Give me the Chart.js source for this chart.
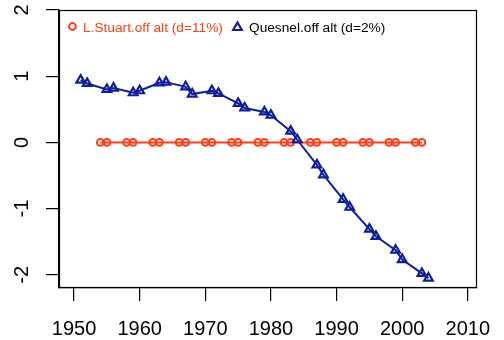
<!DOCTYPE html>
<html>
<head>
<meta charset="utf-8">
<script src="https://cdn.jsdelivr.net/npm/chart.js@4/dist/chart.umd.min.js"></script>
<style>
  html, body { margin: 0; padding: 0; background: #ffffff; }
  #wrap { width: 504px; height: 340px; }
</style>
</head>
<body>
<div id="wrap"><canvas id="c" width="504" height="340"></canvas></div>
<script>
// Series: standardised "off alt" indices by year
const stuartYears  = [1954, 1955, 1958, 1959, 1962, 1963, 1966, 1967, 1970, 1971, 1974, 1975, 1978,
                      1979, 1982, 1983, 1986, 1987, 1990, 1991, 1994, 1995, 1998, 1999, 2002, 2003];
const stuartValues = [0, 0, 0, 0, 0, 0, 0, 0, 0, 0, 0, 0, 0,
                      0, 0, 0, 0, 0, 0, 0, 0, 0, 0, 0, 0, 0];

const quesnelYears  = [1951, 1952, 1955, 1956, 1959, 1960, 1963, 1964, 1967, 1968, 1971, 1972, 1975, 1976,
                       1979, 1980, 1983, 1984, 1987, 1988, 1991, 1992, 1995, 1996, 1999, 2000, 2003, 2004];
const quesnelValues = [0.94, 0.89, 0.80, 0.82, 0.75, 0.78, 0.90, 0.91, 0.84, 0.73, 0.78, 0.74, 0.59, 0.52,
                       0.46, 0.41, 0.17, 0.04, -0.34, -0.49, -0.86, -0.98, -1.31, -1.42, -1.63, -1.77, -1.98, -2.05];

const seriesLabels = ['L.Stuart.off alt (d=11%)', 'Quesnel.off alt (d=2%)'];
const xTickLabels = [1950, 1960, 1970, 1980, 1990, 2000, 2010];
const yTickLabels = [-2, -1, 0, 1, 2];

const RED = '#ff3c14';
const BLUE = '#0f1f9c';
const FONT = '"Liberation Sans", Arial, sans-serif';

const toPoints = (xs, ys) => xs.map((x, i) => ({ x: x, y: ys[i] }));

// Box, rotated y labels, x labels and the in-plot legend
const decorations = {
  id: 'decorations',
  afterDraw(chart) {
    const ctx = chart.ctx;
    const area = chart.chartArea;
    const xs = chart.scales.x;
    const ys = chart.scales.y;
    ctx.save();

    // plot frame
    ctx.strokeStyle = '#000';
    ctx.lineWidth = 1.2;
    ctx.strokeRect(area.left + 0.5, area.top + 0.5, area.right - area.left - 1, area.bottom - area.top - 1);

    // x tick labels
    ctx.fillStyle = '#000';
    ctx.font = '20px ' + FONT;
    ctx.textAlign = 'center';
    ctx.textBaseline = 'alphabetic';
    xs.ticks.forEach(t => {
      ctx.fillText(String(t.value), xs.getPixelForValue(t.value), 335);
    });

    // y tick labels, written bottom-to-top
    ys.ticks.forEach(t => {
      const py = ys.getPixelForValue(t.value);
      ctx.save();
      ctx.translate(28, py);
      ctx.rotate(-Math.PI / 2);
      ctx.textAlign = 'center';
      ctx.textBaseline = 'alphabetic';
      ctx.fillText(String(t.value), 0, 0);
      ctx.restore();
    });

    // legend
    ctx.font = '13.7px ' + FONT;
    ctx.textAlign = 'left';
    ctx.textBaseline = 'alphabetic';
    const ds = chart.data.datasets;

    ctx.lineWidth = 2;
    ctx.strokeStyle = ds[0].borderColor;
    ctx.beginPath();
    ctx.arc(72.5, 26.5, 3.4, 0, Math.PI * 2);
    ctx.stroke();
    ctx.fillStyle = ds[0].borderColor;
    ctx.fillText(ds[0].label, 83, 31.5);

    ctx.strokeStyle = ds[1].borderColor;
    ctx.lineWidth = 2.2;
    const r = 5, cx = 237.5, cy = 27.5;
    ctx.beginPath();
    ctx.moveTo(cx, cy - r);
    ctx.lineTo(cx + r * Math.sin(2 * Math.PI / 3), cy + r / 2);
    ctx.lineTo(cx - r * Math.sin(2 * Math.PI / 3), cy + r / 2);
    ctx.closePath();
    ctx.stroke();
    ctx.fillStyle = '#000';
    ctx.fillText(ds[1].label, 249, 31.5);

    ctx.restore();
  }
};

new Chart(document.getElementById('c'), {
  type: 'line',
  data: {
    datasets: [
      {
        label: seriesLabels[0],
        data: toPoints(stuartYears, stuartValues),
        borderColor: RED,
        borderWidth: 2,
        pointStyle: 'circle',
        pointRadius: 3.4,
        pointBorderWidth: 2,
        pointBorderColor: RED,
        pointBackgroundColor: 'rgba(0,0,0,0)',
        tension: 0,
        order: 1
      },
      {
        label: seriesLabels[1],
        data: toPoints(quesnelYears, quesnelValues),
        borderColor: BLUE,
        borderWidth: 2,
        pointStyle: 'triangle',
        pointRadius: 5,
        pointBorderWidth: 2.2,
        pointBorderColor: BLUE,
        pointBackgroundColor: 'rgba(0,0,0,0)',
        tension: 0,
        order: 0
      }
    ]
  },
  options: {
    responsive: false,
    animation: false,
    devicePixelRatio: 1,
    layout: { padding: { top: 10, right: 27, left: 0, bottom: 0 }, autoPadding: false },
    plugins: { legend: { display: false }, tooltip: { enabled: false }, title: { display: false } },
    scales: {
      x: {
        type: 'linear',
        min: 1947.7,
        max: 2011.4,
        afterBuildTicks: s => { s.ticks = xTickLabels.map(v => ({ value: v })); },
        afterFit: s => { s.height = 52; },
        ticks: { display: false, includeBounds: false },
        grid: { display: true, drawOnChartArea: false, drawTicks: true, tickLength: 13, color: '#000', lineWidth: 1.2 },
        border: { display: true, color: '#000', width: 1.2 }
      },
      y: {
        type: 'linear',
        min: -2.2,
        max: 2.0,
        afterBuildTicks: s => { s.ticks = yTickLabels.map(v => ({ value: v })); },
        afterFit: s => { s.width = 59; },
        ticks: { display: false, includeBounds: false },
        grid: { display: true, drawOnChartArea: false, drawTicks: true, tickLength: 13, color: '#000', lineWidth: 1.2 },
        border: { display: true, color: '#000', width: 1.2 }
      }
    }
  },
  plugins: [decorations]
});
</script>
</body>
</html>
